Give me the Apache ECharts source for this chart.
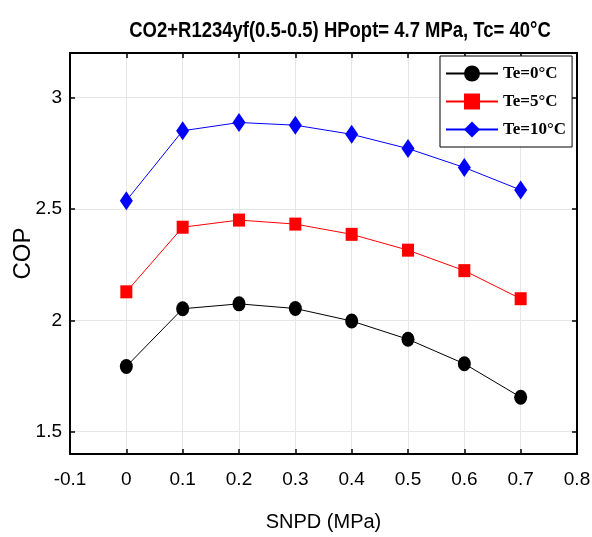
<!DOCTYPE html>
<html>
<head>
<meta charset="utf-8">
<script src="https://cdn.jsdelivr.net/npm/echarts@6/dist/echarts.min.js"></script>
<style>
    html, body {margin: 0; padding: 0; background: #fff;}
    #chart {width: 592px; height: 537px;}
</style>
</head>
<body>
<div id="chart"></div>
<script>
// SNPD, MPa
let snpd = [0, 0.1, 0.2, 0.3, 0.4, 0.5, 0.6, 0.7]

// COP по температурам испарения
let copTe0 = [1.793, 2.052, 2.074, 2.053, 1.997, 1.915, 1.805, 1.655]
let copTe5 = [2.128, 2.418, 2.450, 2.432, 2.386, 2.315, 2.223, 2.097]
let copTe10 = [2.537, 2.851, 2.888, 2.876, 2.835, 2.771, 2.686, 2.585]

let yTicks = [1.5, 2, 2.5, 3]

let titleText = 'CO2+R1234yf(0.5-0.5) HPopt= 4.7 MPa, Tc= 40°C'
let labelFont = 'Liberation Sans, Arial, sans-serif'

function pairs(ys) {
    return snpd.map((x, i) => [x, ys[i]])
}

function lineSeries(name, ys, color, symbol, size) {
    return {
        name: name,
        type: 'line',
        data: pairs(ys),
        symbol: symbol,
        symbolSize: size,
        color: color,
        lineStyle: {color: color, width: 1},
        itemStyle: {color: color},
        z: 5,
    }
}

let frameLine = {show: true, onZero: false, lineStyle: {color: '#000', width: 2}}
let innerTick = {show: true, inside: true, length: 5, lineStyle: {color: '#000', width: 1.5}}

let chart = echarts.init(document.getElementById('chart'))
chart.setOption({
    animation: false,
    // заголовок сжат по горизонтали, как в оригинале
    graphic: [{
        type: 'text',
        x: 340,
        y: 31,
        scaleX: 0.84,
        style: {
            text: titleText,
            fontFamily: 'Liberation Sans, Arial, sans-serif',
            fontWeight: 'bold',
            fontSize: 22,
            fill: '#000',
            align: 'center',
            verticalAlign: 'middle',
        },
    }],
    grid: {left: 70, right: 15, top: 53, bottom: 83, outerBoundsMode: 'none', containLabel: false},
    legend: {
        orient: 'vertical',
        left: 440,
        top: 56,
        padding: [9, 6, 9, 5],
        itemGap: 11,
        itemWidth: 52,
        itemHeight: 20,
        borderColor: '#000',
        borderWidth: 1,
        borderRadius: 0,
        backgroundColor: '#fff',
        textStyle: {
            fontFamily: 'Liberation Serif, Times New Roman, serif',
            fontWeight: 'bold',
            fontSize: 17,
            color: '#000',
        },
    },
    xAxis: [
        {
            type: 'value',
            min: -0.1,
            max: 0.8,
            interval: 0.1,
            name: 'SNPD (MPa)',
            nameLocation: 'middle',
            nameGap: 58,
            nameTextStyle: {fontFamily: labelFont, fontSize: 20, color: '#000'},
            axisLine: frameLine,
            axisTick: innerTick,
            axisLabel: {
                fontFamily: labelFont, fontSize: 19, color: '#000', margin: 16,
                formatter: (v) => String(Math.round(v * 10) / 10),
            },
            splitLine: {show: true, lineStyle: {color: '#e6e6e6', width: 1}},
        },
        {
            type: 'value',
            position: 'top',
            min: -0.1,
            max: 0.8,
            interval: 0.1,
            axisLine: frameLine,
            axisTick: innerTick,
            axisLabel: {show: false},
            splitLine: {show: false},
        },
    ],
    yAxis: [
        {
            type: 'value',
            min: 1.4,
            max: 3.2,
            name: 'COP',
            nameLocation: 'middle',
            nameGap: 35,
            nameMoveOverlap: false,
            nameTextStyle: {fontFamily: labelFont, fontSize: 24, color: '#000'},
            axisLine: frameLine,
            axisTick: Object.assign({customValues: yTicks}, innerTick),
            axisLabel: {
                customValues: yTicks,
                fontFamily: labelFont, fontSize: 19, color: '#000', margin: 8,
            },
            splitLine: {show: true, lineStyle: {color: '#e6e6e6', width: 1}},
        },
        {
            type: 'value',
            position: 'right',
            min: 1.4,
            max: 3.2,
            axisLine: frameLine,
            axisTick: Object.assign({customValues: yTicks}, innerTick),
            axisLabel: {show: false, customValues: yTicks},
            splitLine: {show: false},
        },
    ],
    series: [
        lineSeries('Te=0°C', copTe0, '#000000', 'circle', [13, 15]),
        lineSeries('Te=5°C', copTe5, '#ff0000', 'rect', [12, 13]),
        lineSeries('Te=10°C', copTe10, '#0000ff', 'diamond', [13, 19]),
    ],
})
</script>
</body>
</html>
